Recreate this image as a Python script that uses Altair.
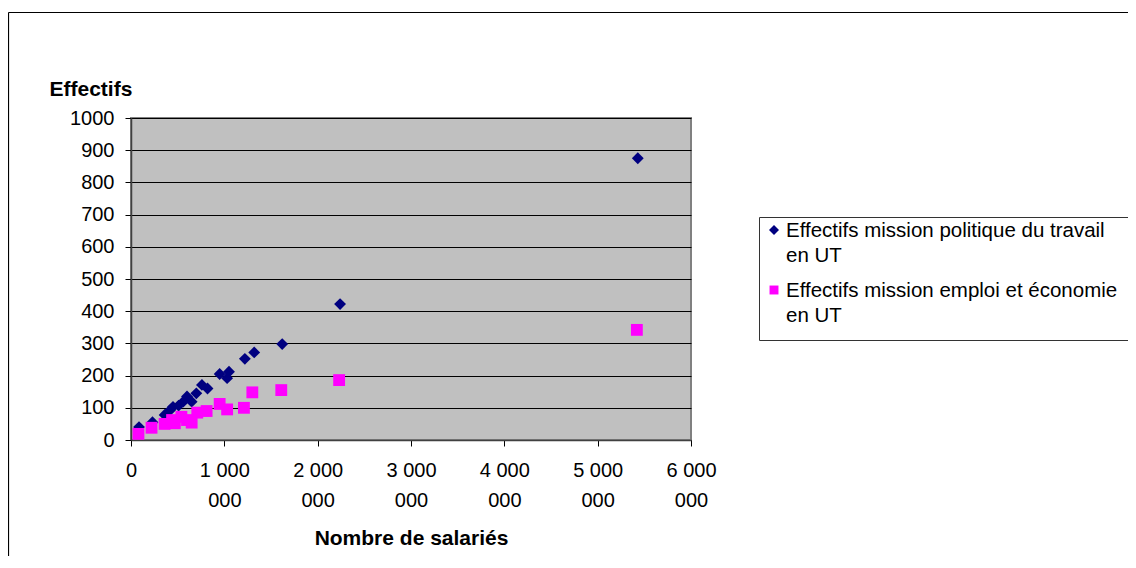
import altair as alt
import pandas as pd

# ---- data ----
series_names = [
    "Effectifs mission politique du travail en UT",
    "Effectifs mission emploi et économie en UT",
]
series_colors = ["#000080", "#FF00FF"]
series_shapes = ["diamond", "square"]

politique_x = [86000, 230000, 360000, 420000, 450000, 510000, 560000, 600000, 650000,
               700000, 760000, 820000, 950000, 1030000, 1050000, 1220000, 1320000,
               1620000, 2240000, 5430000]
politique_y = [40, 55, 78, 93, 103, 107, 119, 135, 119, 145, 171, 160, 205, 192, 212,
               252, 272, 298, 422, 875]

emploi_x = [80000, 220000, 360000, 440000, 470000, 540000, 600000, 650000, 710000,
            810000, 950000, 1030000, 1210000, 1300000, 1610000, 2230000, 5420000]
emploi_y = [19, 38, 50, 62, 52, 72, 62, 54, 85, 90, 112, 95, 100, 148, 155, 186, 342]

x_ticks = [0, 1000000, 2000000, 3000000, 4000000, 5000000, 6000000]
y_ticks = [0, 100, 200, 300, 400, 500, 600, 700, 800, 900, 1000]

legend_lines = [
    "Effectifs mission politique du travail\nen UT",
    "Effectifs mission emploi et économie\nen UT",
]

FONT = "Liberation Sans"

df = pd.concat([
    pd.DataFrame({"x": politique_x, "y": politique_y, "serie": series_names[0]}),
    pd.DataFrame({"x": emploi_x, "y": emploi_y, "serie": series_names[1]}),
], ignore_index=True)

one = pd.DataFrame({"k": [0]})

points = alt.Chart(df).mark_point(filled=True, opacity=1, size=140).encode(
    x=alt.X("x:Q", scale=alt.Scale(domain=[0, 6000000], nice=False),
            axis=alt.Axis(values=x_ticks, grid=False, tickSize=6, tickColor="#000",
                          domainColor="#404040", domainWidth=1.5,
                          labelFontSize=20, labelFont=FONT, labelColor="#000",
                          labelPadding=14, labelLineHeight=30, labelFlush=False,
                          labelOverlap=False,
                          labelExpr="datum.value == 0 ? '0' : [format(datum.value/1000000, 'd') + ' 000', '000']",
                          title="Nombre de salariés", titleFontSize=21, titleFont=FONT,
                          titleFontWeight="bold", titleColor="#000",
                          titleY=98, titleBaseline="middle")),
    y=alt.Y("y:Q", scale=alt.Scale(domain=[0, 1000], nice=False),
            axis=alt.Axis(values=y_ticks, grid=True, gridColor="#000", gridWidth=1,
                          tickSize=6, tickColor="#000", format="d",
                          domainColor="#404040", domainWidth=1.5,
                          labelFontSize=20, labelFont=FONT, labelColor="#000",
                          labelPadding=11,
                          title="Effectifs", titleAngle=0, titleAlign="left",
                          titleBaseline="middle", titleX=-82, titleY=-29,
                          titleFontSize=21, titleFont=FONT, titleFontWeight="bold",
                          titleColor="#000")),
    color=alt.Color("serie:N", scale=alt.Scale(domain=series_names, range=series_colors),
                    legend=None),
    shape=alt.Shape("serie:N", scale=alt.Scale(domain=series_names, range=series_shapes),
                    legend=None),
)

# outer chart border (top & left visible in the reference)
border_top = alt.Chart(one).mark_rule(color="#000", strokeWidth=1.2).encode(
    x=alt.value(-122.5), x2=alt.value(1100), y=alt.value(-105.5))
border_left = alt.Chart(one).mark_rule(color="#000", strokeWidth=1.2).encode(
    x=alt.value(-122.5), y=alt.value(-105.5), y2=alt.value(500))

# legend box
lg_top = alt.Chart(one).mark_rule(color="#333", strokeWidth=1).encode(
    x=alt.value(628.5), x2=alt.value(1100), y=alt.value(99.5))
lg_bottom = alt.Chart(one).mark_rule(color="#333", strokeWidth=1).encode(
    x=alt.value(628.5), x2=alt.value(1100), y=alt.value(222.5))
lg_left = alt.Chart(one).mark_rule(color="#333", strokeWidth=1).encode(
    x=alt.value(628.5), y=alt.value(99.5), y2=alt.value(222.5))

lg_sym1 = alt.Chart(one).mark_point(shape="diamond", filled=True, opacity=1, size=100,
                                    color=series_colors[0]).encode(
    x=alt.value(643), y=alt.value(112))
lg_sym2 = alt.Chart(one).mark_point(shape="square", filled=True, opacity=1, size=80,
                                    color=series_colors[1]).encode(
    x=alt.value(643), y=alt.value(172))

lg_txt1 = alt.Chart(pd.DataFrame({"t": [legend_lines[0]]})).mark_text(
    align="left", baseline="alphabetic", fontSize=20.5, font=FONT, color="#000",
    lineBreak="\n", lineHeight=25).encode(
    x=alt.value(655), y=alt.value(119), text="t:N")
lg_txt2 = alt.Chart(pd.DataFrame({"t": [legend_lines[1]]})).mark_text(
    align="left", baseline="alphabetic", fontSize=20.5, font=FONT, color="#000",
    lineBreak="\n", lineHeight=25).encode(
    x=alt.value(655), y=alt.value(179), text="t:N")

chart = alt.layer(
    points, border_top, border_left, lg_top, lg_bottom, lg_left,
    lg_sym1, lg_sym2, lg_txt1, lg_txt2,
).properties(
    width=560, height=322,
    autosize=alt.AutoSizeParams(type="none"),
    padding={"left": 123, "top": 110, "right": 437, "bottom": 116},
    background="#FFFFFF",
).configure_view(
    fill="#C0C0C0", stroke="#808080", strokeWidth=2,
)

chart.save("out.html", embed_options={"renderer": "svg", "actions": False})
